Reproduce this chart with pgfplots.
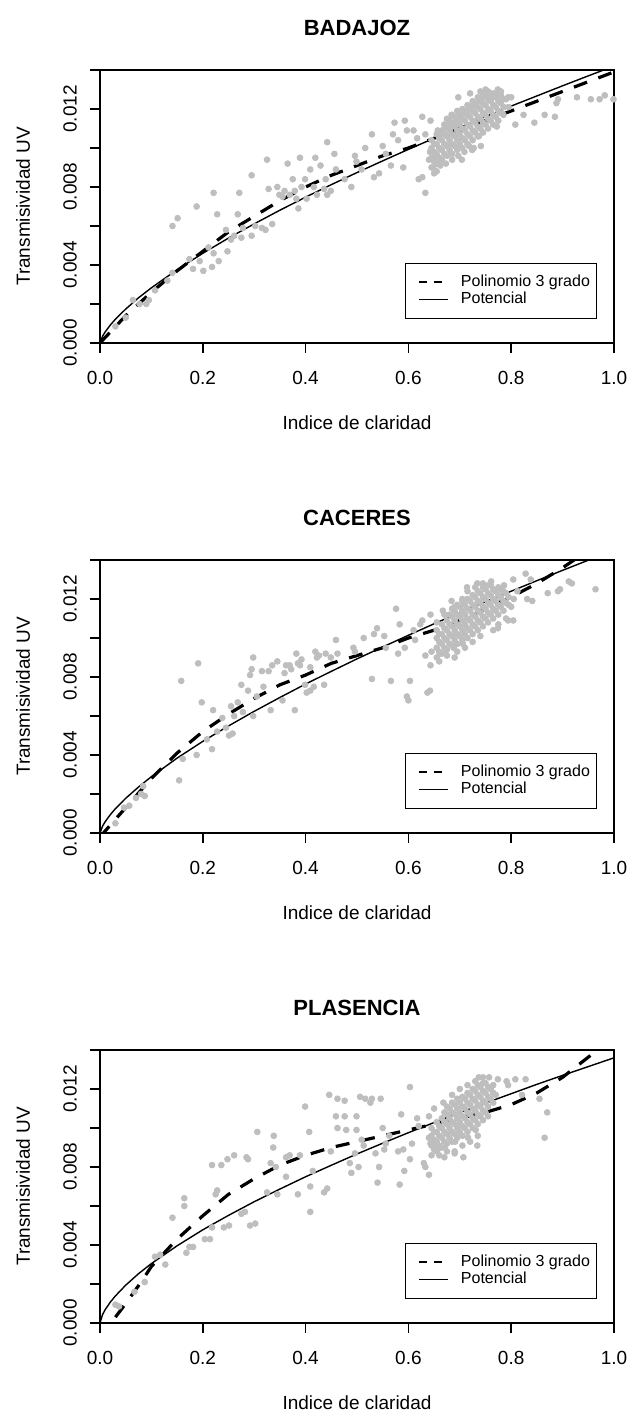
\documentclass[border=0pt]{standalone}
\usepackage{pgfplots}
\pgfplotsset{compat=1.18}
\usepackage{fontspec}
\setmainfont{Liberation Sans}
\definecolor{ptgray}{RGB}{190,190,190}
\pgfplotsset{
  rpanel/.style={
    scale only axis, width=257pt, height=136.5pt,
    xmin=0, xmax=1, ymin=0, ymax=0.014,
    axis line style={line width=0.75pt},
    tick style={line width=0.75pt, black},
    tick align=outside, major tick length=5pt,
    xtick pos=left, ytick pos=left,
    xtick={0,0.2,0.4,0.6,0.8,1}, xticklabels={0.0,0.2,0.4,0.6,0.8,1.0},
    ytick={0,0.002,0.004,0.006,0.008,0.010,0.012,0.014},
    yticklabels={0.000,,0.004,,0.008,,0.012,},
    scaled x ticks=false, scaled y ticks=false,
    tick label style={font=\fontsize{9.5}{11}\selectfont},
    xticklabel style={anchor=center, yshift=-12.5pt},
    yticklabel style={xshift=-10pt, rotate=90, anchor=center},
    xlabel={Indice de claridad}, ylabel={Transmisividad UV},
    every axis x label/.style={at={(axis description cs:0.5,0)}, yshift=-40pt, anchor=center, font=\fontsize{9.5}{11}\selectfont},
    every axis y label/.style={at={(axis description cs:0,0.5)}, xshift=-38.5pt, rotate=90, anchor=center, font=\fontsize{9.5}{11}\selectfont},
    every axis title/.style={at={(axis description cs:0.5,1)}, yshift=21pt, anchor=center, font=\bfseries\fontsize{11}{13}\selectfont},
    legend cell align=left,
    legend image code/.code={\draw[#1] (0pt,0pt) -- (14.5pt,0pt); \path (-3.25pt,0pt) (20.5pt,0pt);},
    legend style={at={(0.967,0.088)}, anchor=south east, draw=black, line width=0.6pt,
      font=\fontsize{8}{9.6}\selectfont, inner xsep=3pt, inner ysep=5.25pt, row sep=0pt,
      nodes={text height=6pt, text depth=2pt, inner sep=0.25pt}},
    pts/.style={only marks, mark=*, mark size=1.45pt, ptgray, mark options={draw=none, fill=ptgray}, forget plot},
    poly/.style={black, line width=1.6pt, dash pattern=on 7pt off 6pt, forget plot},
    pot/.style={black, line width=0.7pt, forget plot},
  }
}
\begin{document}
\begin{tikzpicture}[x=1pt,y=1pt]
\useasboundingbox (0,0) rectangle (315.5,-708);
% ---------------- BADAJOZ ----------------
\begin{axis}[rpanel, title={BADAJOZ}, at={(50pt,-171.5pt)}, anchor=south west]
\addplot[pts] coordinates {
(0.030,0.00085) (0.050,0.0013) (0.064,0.0022) (0.077,0.0020) (0.090,0.0020) (0.095,0.0022) (0.107,0.0027)
(0.131,0.0032) (0.141,0.0036) (0.141,0.0060) (0.151,0.0064) (0.174,0.0043) (0.181,0.0038) (0.188,0.0070)
(0.201,0.0037) (0.194,0.0042) (0.218,0.0039) (0.231,0.0042) (0.211,0.0049) (0.221,0.0046) (0.221,0.0077)
(0.228,0.0066) (0.248,0.0047) (0.245,0.0058) (0.255,0.0053) (0.261,0.0055) (0.268,0.0066) (0.271,0.0077)
(0.275,0.0054) (0.278,0.0059) (0.295,0.0086) (0.295,0.0055) (0.302,0.0060) (0.315,0.0059) (0.322,0.0058)
(0.325,0.0094) (0.328,0.0079) (0.335,0.0061) (0.345,0.0080) (0.349,0.0076) (0.355,0.0075) (0.359,0.0078)
(0.365,0.0092) (0.369,0.0076) (0.375,0.0084) (0.379,0.0078) (0.382,0.0074) (0.386,0.0069) (0.389,0.0095)
(0.392,0.0080) (0.399,0.0084) (0.402,0.0074) (0.409,0.0089) (0.416,0.0080) (0.419,0.0095) (0.422,0.0076)
(0.429,0.0091) (0.436,0.0079) (0.439,0.0084) (0.442,0.0103) (0.442,0.0076) (0.449,0.0078) (0.456,0.0097)
(0.459,0.0089) (0.476,0.0084) (0.489,0.0080) (0.496,0.0096) (0.499,0.0093) (0.509,0.0089) (0.516,0.0100)
(0.529,0.0107) (0.533,0.0085) (0.543,0.0087) (0.550,0.0101) (0.556,0.0097) (0.566,0.0091) (0.570,0.0107)
(0.573,0.0113) (0.580,0.0104) (0.590,0.0090) (0.593,0.0114) (0.597,0.0109) (0.610,0.0109) (0.617,0.0105)
(0.620,0.0084) (0.627,0.0116) (0.627,0.0085) (0.633,0.0077) (0.633,0.0107) (0.643,0.0114) (0.650,0.0087)
(0.657,0.0092) (0.657,0.0109) (0.670,0.0112) (0.684,0.0117) (0.697,0.0126) (0.704,0.0094) (0.720,0.0128)
(0.724,0.0099) (0.741,0.0101) (0.737,0.0106) (0.757,0.0128) (0.774,0.0130) (0.794,0.0126) (0.808,0.0112)
(0.824,0.0117) (0.845,0.0113) (0.865,0.0117) (0.885,0.0116) (0.888,0.0123) (0.891,0.0125) (0.928,0.0126)
(0.955,0.0125) (0.972,0.0125) (0.982,0.0127) (0.999,0.0125)
(0.640,0.0094) (0.642,0.0098) (0.648,0.0090) (0.652,0.0096) (0.657,0.0093) (0.662,0.0106) (0.668,0.0109)
(0.678,0.0111) (0.688,0.0113) (0.700,0.0115) (0.710,0.0118) (0.718,0.0120) (0.726,0.0122) (0.736,0.0124)
(0.744,0.0126) (0.754,0.0127) (0.766,0.0128) (0.780,0.0129) (0.790,0.0125) (0.800,0.0126) (0.655,0.0088)
(0.662,0.0091) (0.673,0.0092) (0.685,0.0094) (0.697,0.0096) (0.709,0.0098) (0.718,0.0101) (0.727,0.0100)
(0.740,0.0129) (0.750,0.0130) (0.745,0.0108) (0.772,0.0111) (0.795,0.0121)
(0.645,0.0090) (0.645,0.0095) (0.645,0.0100) (0.645,0.0104)
(0.655,0.0092) (0.655,0.0097) (0.655,0.0102) (0.655,0.0107)
(0.665,0.0094) (0.665,0.0099) (0.665,0.0104) (0.665,0.0109)
(0.675,0.0096) (0.675,0.0101) (0.675,0.0106) (0.675,0.0111) (0.675,0.0115)
(0.685,0.0097) (0.685,0.0102) (0.685,0.0107) (0.685,0.0112) (0.685,0.0117)
(0.695,0.0099) (0.695,0.0104) (0.695,0.0109) (0.695,0.0114) (0.695,0.0119)
(0.705,0.0100) (0.705,0.0105) (0.705,0.0110) (0.705,0.0115) (0.705,0.0120)
(0.715,0.0102) (0.715,0.0107) (0.715,0.0112) (0.715,0.0117) (0.715,0.0122)
(0.725,0.0104) (0.725,0.0109) (0.725,0.0114) (0.725,0.0119) (0.725,0.0124)
(0.735,0.0106) (0.735,0.0111) (0.735,0.0116) (0.735,0.0121) (0.735,0.0126)
(0.745,0.0108) (0.745,0.0113) (0.745,0.0118) (0.745,0.0123) (0.745,0.0127)
(0.755,0.0110) (0.755,0.0115) (0.755,0.0120) (0.755,0.0125) (0.755,0.0129)
(0.765,0.0112) (0.765,0.0117) (0.765,0.0122) (0.765,0.0126)
(0.775,0.0114) (0.775,0.0119) (0.775,0.0124) (0.775,0.0128)
(0.785,0.0117) (0.785,0.0121) (0.785,0.0125)
(0.650,0.0093) (0.650,0.0098) (0.650,0.0102)
(0.660,0.0095) (0.660,0.0100) (0.660,0.0105)
(0.670,0.0097) (0.670,0.0102) (0.670,0.0107) (0.670,0.0112)
(0.680,0.0099) (0.680,0.0104) (0.680,0.0109) (0.680,0.0114)
(0.690,0.0101) (0.690,0.0106) (0.690,0.0111) (0.690,0.0116)
(0.700,0.0102) (0.700,0.0107) (0.700,0.0112) (0.700,0.0117)
(0.710,0.0104) (0.710,0.0109) (0.710,0.0114) (0.710,0.0119)
(0.720,0.0106) (0.720,0.0111) (0.720,0.0116) (0.720,0.0121)
(0.730,0.0108) (0.730,0.0113) (0.730,0.0118) (0.730,0.0123)
(0.740,0.0110) (0.740,0.0115) (0.740,0.0120) (0.740,0.0125)
(0.750,0.0112) (0.750,0.0117) (0.750,0.0122) (0.750,0.0127)
(0.760,0.0114) (0.760,0.0119) (0.760,0.0124) (0.760,0.0128)
(0.770,0.0116) (0.770,0.0121) (0.770,0.0126)
(0.780,0.0118) (0.780,0.0123) (0.780,0.0127)
};
\addplot[poly] coordinates {
(0,0) (0.05,0.0014) (0.1,0.0026) (0.15,0.0037) (0.2,0.0047) (0.25,0.0057) (0.3,0.0065) (0.35,0.0073)
(0.4,0.0080) (0.45,0.0086) (0.5,0.0091) (0.55,0.0096) (0.6,0.0100) (0.65,0.0105) (0.7,0.0109)
(0.75,0.0114) (0.8,0.0119) (0.85,0.0124) (0.9,0.0129) (0.95,0.0134) (1.0,0.0139)
};
\addplot[pot] coordinates {
(0,0) (0.005,0.000348) (0.01,0.000565) (0.02,0.000919) (0.03,0.00122) (0.05,0.00174) (0.075,0.00232)
(0.1,0.00283) (0.15,0.00376) (0.2,0.00460) (0.25,0.00538) (0.3,0.00611) (0.35,0.00681) (0.4,0.00748)
(0.45,0.00812) (0.5,0.00874) (0.55,0.00934) (0.6,0.00993) (0.65,0.01050) (0.7,0.01106) (0.75,0.01161)
(0.8,0.01215) (0.85,0.01267) (0.9,0.01319) (0.95,0.01370) (1.0,0.0142)
};
\addlegendimage{black, line width=0.9pt, dash pattern=on 4pt off 3.5pt}
\addlegendentry{Polinomio 3 grado}
\addlegendimage{black, line width=0.6pt}
\addlegendentry{Potencial}
\end{axis}
% ---------------- CACERES ----------------
\begin{axis}[rpanel, title={CACERES}, at={(50pt,-416.5pt)}, anchor=south west]
\addplot[pts] coordinates {
(0.030,0.0005) (0.047,0.0013) (0.057,0.0014) (0.070,0.0018) (0.080,0.0020) (0.087,0.0019) (0.084,0.0024)
(0.154,0.0027) (0.158,0.0078) (0.161,0.0038) (0.188,0.0040) (0.191,0.0087) (0.198,0.0067) (0.208,0.0048)
(0.218,0.0043) (0.220,0.0063) (0.228,0.0052) (0.238,0.0059) (0.245,0.0054) (0.251,0.0050) (0.258,0.0051)
(0.255,0.0065) (0.261,0.0060) (0.268,0.0067) (0.275,0.0076) (0.278,0.0062) (0.288,0.0073) (0.292,0.0081)
(0.295,0.0084) (0.298,0.0090) (0.298,0.0060) (0.305,0.0070) (0.315,0.0083) (0.318,0.0075) (0.328,0.0083)
(0.332,0.0063) (0.335,0.0086) (0.345,0.0088) (0.355,0.0068) (0.359,0.0082) (0.362,0.0086) (0.369,0.0086)
(0.372,0.0084) (0.379,0.0063) (0.382,0.0092) (0.385,0.0087) (0.389,0.0086) (0.392,0.0089) (0.399,0.0076)
(0.402,0.0072) (0.409,0.0085) (0.409,0.0073) (0.416,0.0075) (0.419,0.0093) (0.422,0.0090) (0.426,0.0091)
(0.436,0.0076) (0.439,0.0092) (0.449,0.0090) (0.459,0.0099) (0.462,0.0092) (0.493,0.0095) (0.496,0.0093)
(0.513,0.0100) (0.529,0.0079) (0.533,0.0102) (0.539,0.0105) (0.553,0.0101) (0.556,0.0095) (0.566,0.0078)
(0.576,0.0115) (0.580,0.0092) (0.583,0.0107) (0.593,0.0095) (0.597,0.0070) (0.600,0.0068) (0.603,0.0078)
(0.610,0.0104) (0.613,0.0099) (0.623,0.0107) (0.627,0.0109) (0.633,0.0091) (0.637,0.0072) (0.642,0.0073)
(0.643,0.0086) (0.643,0.0112) (0.667,0.0114) (0.684,0.0119) (0.690,0.0090) (0.714,0.0126) (0.734,0.0128)
(0.761,0.0129) (0.774,0.0105) (0.804,0.0130) (0.794,0.0109) (0.804,0.0109) (0.828,0.0133) (0.831,0.0120)
(0.841,0.0119) (0.838,0.0130) (0.871,0.0123) (0.891,0.0124) (0.895,0.0125) (0.912,0.0129) (0.918,0.0128)
(0.964,0.0125)
(0.645,0.0093) (0.661,0.0092) (0.673,0.0094) (0.688,0.0095) (0.706,0.0097) (0.660,0.0088) (0.675,0.0091)
(0.695,0.0093) (0.710,0.0095) (0.725,0.0098) (0.740,0.0101) (0.655,0.0108) (0.670,0.0112) (0.690,0.0116)
(0.705,0.0120) (0.715,0.0124) (0.730,0.0126) (0.745,0.0128) (0.765,0.0104) (0.775,0.0107) (0.790,0.0110)
(0.805,0.0120) (0.812,0.0124) (0.786,0.0127) (0.800,0.0116)
(0.655,0.0090) (0.655,0.0095) (0.655,0.0100) (0.655,0.0104)
(0.665,0.0092) (0.665,0.0097) (0.665,0.0102) (0.665,0.0107)
(0.675,0.0094) (0.675,0.0099) (0.675,0.0104) (0.675,0.0109)
(0.685,0.0096) (0.685,0.0101) (0.685,0.0106) (0.685,0.0111) (0.685,0.0115)
(0.695,0.0097) (0.695,0.0102) (0.695,0.0107) (0.695,0.0112) (0.695,0.0117)
(0.705,0.0099) (0.705,0.0104) (0.705,0.0109) (0.705,0.0114) (0.705,0.0119)
(0.715,0.0100) (0.715,0.0105) (0.715,0.0110) (0.715,0.0115) (0.715,0.0120)
(0.725,0.0102) (0.725,0.0107) (0.725,0.0112) (0.725,0.0117) (0.725,0.0122)
(0.735,0.0104) (0.735,0.0109) (0.735,0.0114) (0.735,0.0119) (0.735,0.0124)
(0.745,0.0106) (0.745,0.0111) (0.745,0.0116) (0.745,0.0121) (0.745,0.0126)
(0.755,0.0108) (0.755,0.0113) (0.755,0.0118) (0.755,0.0123) (0.755,0.0127)
(0.765,0.0110) (0.765,0.0115) (0.765,0.0120) (0.765,0.0125)
(0.775,0.0112) (0.775,0.0117) (0.775,0.0122) (0.775,0.0126)
(0.785,0.0114) (0.785,0.0119) (0.785,0.0124)
(0.795,0.0117) (0.795,0.0121)
(0.660,0.0093) (0.660,0.0098) (0.660,0.0102)
(0.670,0.0095) (0.670,0.0100) (0.670,0.0105)
(0.680,0.0097) (0.680,0.0102) (0.680,0.0107) (0.680,0.0112)
(0.690,0.0099) (0.690,0.0104) (0.690,0.0109) (0.690,0.0114)
(0.700,0.0101) (0.700,0.0106) (0.700,0.0111) (0.700,0.0116)
(0.710,0.0102) (0.710,0.0107) (0.710,0.0112) (0.710,0.0117)
(0.720,0.0104) (0.720,0.0109) (0.720,0.0114) (0.720,0.0119)
(0.730,0.0106) (0.730,0.0111) (0.730,0.0116) (0.730,0.0121)
(0.740,0.0108) (0.740,0.0113) (0.740,0.0118) (0.740,0.0123)
(0.750,0.0110) (0.750,0.0115) (0.750,0.0120) (0.750,0.0125)
(0.760,0.0112) (0.760,0.0117) (0.760,0.0122) (0.760,0.0127)
(0.770,0.0114) (0.770,0.0119) (0.770,0.0124)
(0.780,0.0116) (0.780,0.0121) (0.780,0.0125)
(0.790,0.0118) (0.790,0.0123)
};
\addplot[poly] coordinates {
(0,-0.0002) (0.02,0.0004) (0.05,0.0013) (0.1,0.0028) (0.15,0.0041) (0.2,0.0052) (0.25,0.0061) (0.3,0.0069)
(0.35,0.0076) (0.4,0.0081) (0.45,0.0087) (0.5,0.0091) (0.55,0.0095) (0.6,0.0100) (0.65,0.0104)
(0.7,0.0109) (0.75,0.0115) (0.8,0.0121) (0.85,0.0128) (0.9,0.0136) (0.95,0.0145)
};
\addplot[pot] coordinates {
(0,0) (0.005,0.000355) (0.01,0.000577) (0.02,0.000938) (0.03,0.00125) (0.05,0.00178) (0.075,0.00236)
(0.1,0.00289) (0.15,0.00384) (0.2,0.00470) (0.25,0.00549) (0.3,0.00624) (0.35,0.00695) (0.4,0.00764)
(0.45,0.00829) (0.5,0.00893) (0.55,0.00954) (0.6,0.01014) (0.65,0.01073) (0.7,0.01130) (0.75,0.01186)
(0.8,0.01240) (0.85,0.01294) (0.9,0.01347) (0.95,0.01399) (1.0,0.0145)
};
\addlegendimage{black, line width=0.9pt, dash pattern=on 4pt off 3.5pt}
\addlegendentry{Polinomio 3 grado}
\addlegendimage{black, line width=0.6pt}
\addlegendentry{Potencial}
\end{axis}
% ---------------- PLASENCIA ----------------
\begin{axis}[rpanel, title={PLASENCIA}, at={(50pt,-661.5pt)}, anchor=south west]
\addplot[pts] coordinates {
(0.030,0.00094) (0.037,0.00085) (0.067,0.0016) (0.087,0.0021) (0.107,0.0034) (0.117,0.0035) (0.127,0.0030)
(0.141,0.0054) (0.164,0.0064) (0.164,0.0060) (0.168,0.0036) (0.174,0.0039) (0.181,0.0039) (0.204,0.0043)
(0.214,0.0043) (0.218,0.0049) (0.218,0.0081) (0.225,0.0066) (0.228,0.0068) (0.236,0.0081) (0.241,0.0049)
(0.248,0.0084) (0.251,0.0050) (0.261,0.0086) (0.275,0.0056) (0.282,0.0057) (0.285,0.0085) (0.288,0.0084)
(0.292,0.0050) (0.302,0.0051) (0.306,0.0098) (0.325,0.0067) (0.332,0.0082) (0.338,0.0096) (0.337,0.0090)
(0.342,0.0080) (0.345,0.0066) (0.362,0.0075) (0.362,0.0085) (0.369,0.0086) (0.385,0.0066) (0.389,0.0086)
(0.399,0.0111) (0.407,0.0098) (0.409,0.0070) (0.409,0.0057) (0.414,0.0078) (0.436,0.0067) (0.442,0.0069)
(0.446,0.0117) (0.449,0.0088) (0.459,0.0106) (0.462,0.0115) (0.462,0.0100) (0.476,0.0106) (0.476,0.0114)
(0.479,0.0099) (0.486,0.0082) (0.489,0.0077) (0.496,0.0087) (0.499,0.0106) (0.499,0.0099) (0.503,0.0080)
(0.506,0.0116) (0.509,0.0094) (0.513,0.0091) (0.516,0.0115) (0.526,0.0113) (0.529,0.0115) (0.536,0.0087)
(0.540,0.0072) (0.543,0.0080) (0.546,0.0115) (0.550,0.0100) (0.553,0.0089) (0.556,0.0092) (0.563,0.0096)
(0.580,0.0088) (0.583,0.0071) (0.586,0.0107) (0.590,0.0089) (0.592,0.0078) (0.603,0.0121) (0.607,0.0092)
(0.603,0.0084) (0.617,0.0105) (0.620,0.0101) (0.630,0.0082) (0.633,0.0080) (0.640,0.0076) (0.643,0.0092)
(0.640,0.0106) (0.650,0.0090) (0.657,0.0089) (0.670,0.0085) (0.690,0.0088) (0.707,0.0085) (0.734,0.0091)
(0.737,0.0126) (0.757,0.0126) (0.774,0.0125) (0.791,0.0124) (0.794,0.0122) (0.808,0.0125) (0.828,0.0125)
(0.821,0.0117) (0.855,0.0115) (0.865,0.0095) (0.870,0.0108)
(0.640,0.0095) (0.648,0.0091) (0.671,0.0090) (0.691,0.0093) (0.716,0.0095) (0.731,0.0099) (0.660,0.0086)
(0.675,0.0088) (0.690,0.0087) (0.705,0.0091) (0.720,0.0093) (0.735,0.0096) (0.650,0.0110) (0.668,0.0113)
(0.685,0.0117) (0.700,0.0120) (0.715,0.0122) (0.730,0.0124) (0.745,0.0126) (0.765,0.0122) (0.770,0.0117)
(0.645,0.0086) (0.645,0.0091) (0.645,0.0096) (0.645,0.0100)
(0.655,0.0088) (0.655,0.0093) (0.655,0.0098) (0.655,0.0103)
(0.665,0.0090) (0.665,0.0095) (0.665,0.0100) (0.665,0.0105)
(0.675,0.0092) (0.675,0.0097) (0.675,0.0102) (0.675,0.0107) (0.675,0.0111)
(0.685,0.0093) (0.685,0.0098) (0.685,0.0103) (0.685,0.0108) (0.685,0.0113)
(0.695,0.0095) (0.695,0.0100) (0.695,0.0105) (0.695,0.0110) (0.695,0.0115)
(0.705,0.0096) (0.705,0.0101) (0.705,0.0106) (0.705,0.0111) (0.705,0.0116)
(0.715,0.0098) (0.715,0.0103) (0.715,0.0108) (0.715,0.0113) (0.715,0.0118)
(0.725,0.0100) (0.725,0.0105) (0.725,0.0110) (0.725,0.0115) (0.725,0.0120)
(0.735,0.0102) (0.735,0.0107) (0.735,0.0112) (0.735,0.0117) (0.735,0.0122)
(0.745,0.0104) (0.745,0.0109) (0.745,0.0114) (0.745,0.0119) (0.745,0.0123)
(0.755,0.0106) (0.755,0.0111) (0.755,0.0116) (0.755,0.0121)
(0.765,0.0113) (0.765,0.0118)
(0.650,0.0089) (0.650,0.0094) (0.650,0.0098)
(0.660,0.0091) (0.660,0.0096) (0.660,0.0101)
(0.670,0.0093) (0.670,0.0098) (0.670,0.0103) (0.670,0.0108)
(0.680,0.0095) (0.680,0.0100) (0.680,0.0105) (0.680,0.0110)
(0.690,0.0097) (0.690,0.0102) (0.690,0.0107) (0.690,0.0112)
(0.700,0.0098) (0.700,0.0103) (0.700,0.0108) (0.700,0.0113)
(0.710,0.0100) (0.710,0.0105) (0.710,0.0110) (0.710,0.0115)
(0.720,0.0102) (0.720,0.0107) (0.720,0.0112) (0.720,0.0117)
(0.730,0.0104) (0.730,0.0109) (0.730,0.0114) (0.730,0.0119)
(0.740,0.0106) (0.740,0.0111) (0.740,0.0116) (0.740,0.0121)
(0.750,0.0108) (0.750,0.0113) (0.750,0.0118) (0.750,0.0123)
(0.760,0.0115) (0.760,0.0120)
};
\addplot[poly] coordinates {
(0.03,0.0003) (0.05,0.0010) (0.08,0.0021) (0.1,0.0029) (0.15,0.0043) (0.2,0.0055) (0.25,0.0066)
(0.3,0.0074) (0.35,0.0081) (0.4,0.0086) (0.45,0.0090) (0.5,0.0093) (0.55,0.0096) (0.6,0.0099)
(0.65,0.0102) (0.7,0.0105) (0.75,0.0108) (0.8,0.0112) (0.85,0.0118) (0.9,0.0126) (0.958,0.0138)
};
\addplot[pot] coordinates {
(0,0) (0.005,0.000434) (0.01,0.000681) (0.02,0.00107) (0.03,0.00139) (0.05,0.00194) (0.075,0.00253)
(0.1,0.00305) (0.15,0.00396) (0.2,0.00478) (0.25,0.00552) (0.3,0.00622) (0.35,0.00687) (0.4,0.00750)
(0.45,0.00809) (0.5,0.00867) (0.55,0.00922) (0.6,0.00976) (0.65,0.01028) (0.7,0.01079) (0.75,0.01128)
(0.8,0.01176) (0.85,0.01224) (0.9,0.01270) (0.95,0.01315) (1.0,0.0136)
};
\addlegendimage{black, line width=0.9pt, dash pattern=on 4pt off 3.5pt}
\addlegendentry{Polinomio 3 grado}
\addlegendimage{black, line width=0.6pt}
\addlegendentry{Potencial}
\end{axis}
\end{tikzpicture}
\end{document}
